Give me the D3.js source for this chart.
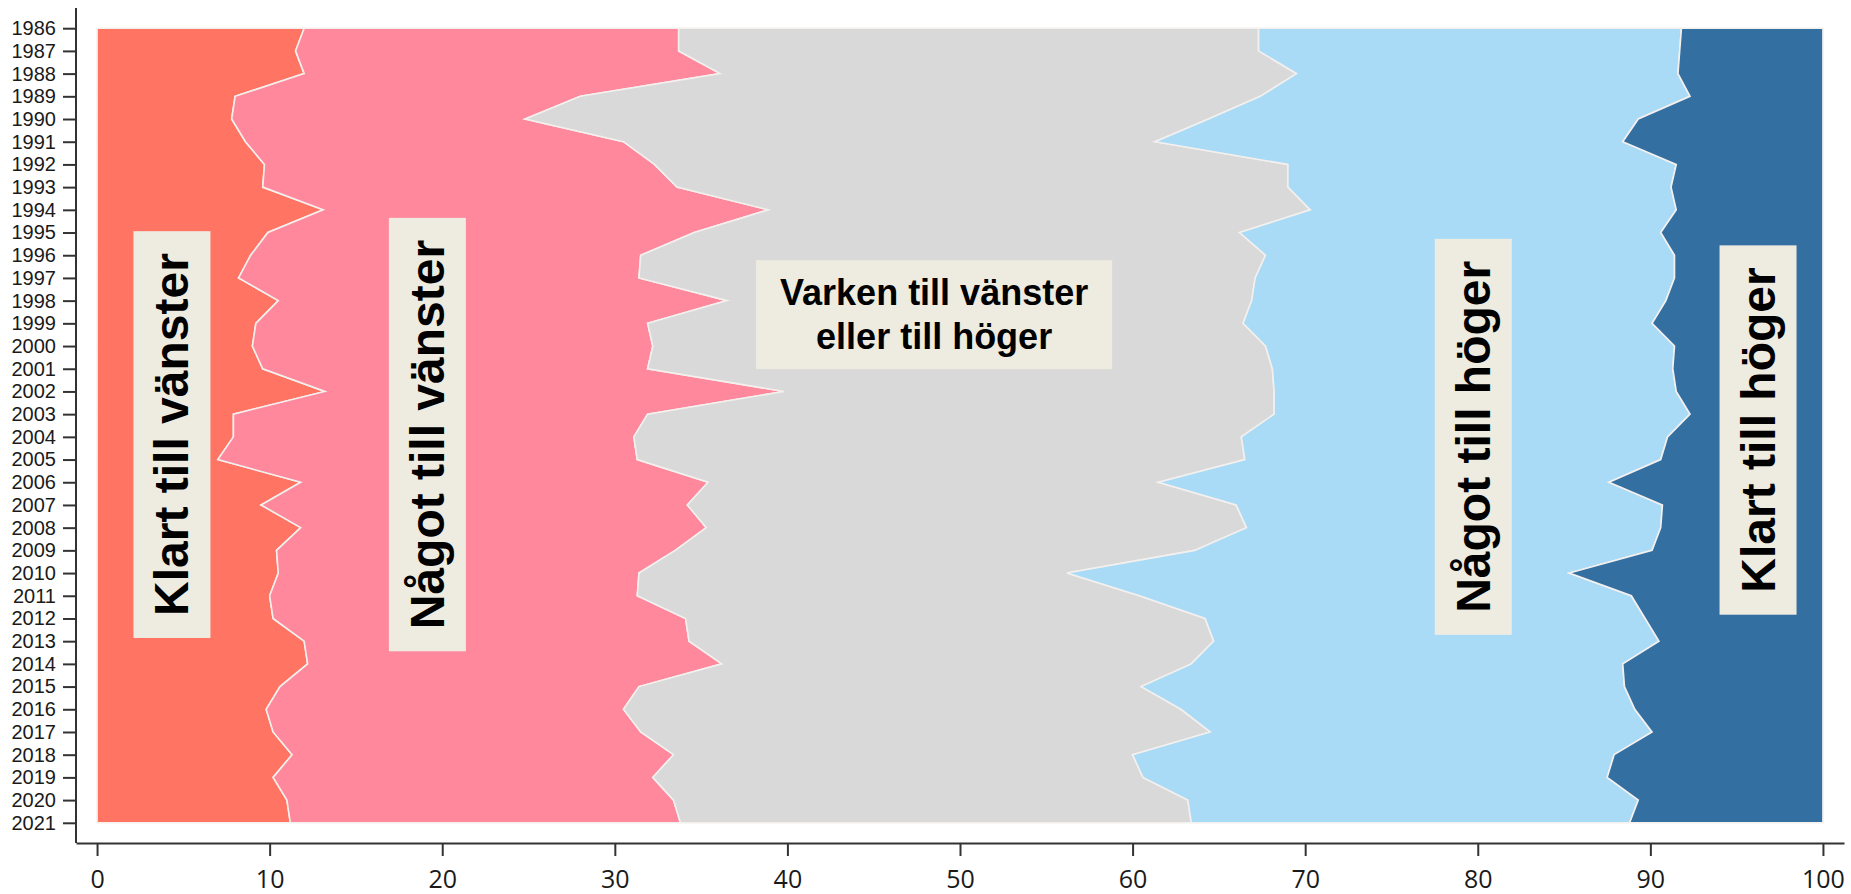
<!DOCTYPE html>
<html>
<head>
<meta charset="utf-8">
<script src="https://cdn.jsdelivr.net/npm/d3@7"></script>
<style>
  body { margin: 0; background: #fff; }
  svg { display: block; }
  .axis path, .axis line { stroke: #333; stroke-width: 2; }
  .axis text { fill: #1a1a1a; }
  .y-axis text { font-family: "Liberation Sans", Arial, sans-serif; font-size: 20px; }
  .x-axis text { font-family: "Open Sans", "Noto Sans", sans-serif; font-size: 25px; }
  .band { stroke: #f3f0ee; stroke-width: 1.6; stroke-linejoin: miter; }
  .label-box { fill: #eeebe1; }
  .label-text { font-family: "Liberation Sans", Arial, sans-serif; font-weight: bold; fill: #000; }
</style>
</head>
<body>
<div id="chart"></div>
<script>
// Share of respondents per position, one value per year (percent)
const years = [1986, 1987, 1988, 1989, 1990, 1991, 1992, 1993, 1994, 1995, 1996, 1997,
  1998, 1999, 2000, 2001, 2002, 2003, 2004, 2005, 2006, 2007, 2008, 2009,
  2010, 2011, 2012, 2013, 2014, 2015, 2016, 2017, 2018, 2019, 2020, 2021];

const klartVanster = [12.0, 11.5, 12.0, 8.0, 7.8, 8.6, 9.7, 9.6, 13.1, 9.9, 8.9, 8.2,
  10.5, 9.2, 9.0, 9.6, 13.2, 7.9, 7.9, 7.0, 11.8, 9.5, 11.8, 10.4,
  10.5, 10.0, 10.2, 12.0, 12.2, 10.6, 9.8, 10.2, 11.3, 10.2, 11.0, 11.2];
const nagotVanster = [21.7, 22.2, 24.1, 20.0, 17.0, 21.9, 22.6, 24.0, 25.8, 24.7, 22.6, 23.2,
  26.0, 22.7, 23.2, 22.3, 26.6, 24.0, 23.2, 24.3, 23.6, 24.7, 23.5, 23.1,
  20.9, 21.3, 23.9, 22.3, 24.0, 20.8, 20.7, 21.3, 22.1, 22.0, 22.4, 22.6];
const varken = [33.6, 33.6, 33.4, 39.4, 39.6, 30.8, 36.7, 35.4, 31.4, 31.6, 36.2, 35.7,
  30.4, 34.5, 35.5, 36.2, 28.4, 36.3, 35.2, 35.2, 26.1, 31.8, 31.3, 30.1,
  24.8, 29.1, 30.1, 30.4, 27.2, 29.1, 32.3, 33.0, 26.6, 28.4, 29.8, 29.6];
const nagotHoger = [24.5, 24.4, 22.1, 24.9, 24.9, 27.1, 22.5, 22.2, 21.2, 24.4, 23.7, 24.3,
  24.0, 23.7, 23.7, 23.2, 23.3, 24.1, 24.7, 24.1, 26.1, 24.7, 24.0, 26.5,
  29.1, 28.5, 25.5, 25.8, 25.0, 28.0, 26.3, 25.6, 27.9, 26.9, 26.1, 25.4];
const klartHoger = [8.2, 8.3, 8.4, 7.7, 10.7, 11.6, 8.5, 8.8, 8.5, 9.4, 8.6, 8.6,
  9.1, 9.9, 8.6, 8.7, 8.5, 7.7, 9.0, 9.4, 12.4, 9.3, 9.4, 9.9,
  14.7, 11.1, 10.3, 9.5, 11.6, 11.5, 10.9, 9.9, 12.1, 12.5, 10.7, 11.2];

const seriesKeys = ['klartVanster', 'nagotVanster', 'varken', 'nagotHoger', 'klartHoger'];
const seriesColors = ['#ff7463', '#ff889c', '#d9d9d9', '#a9dbf7', '#346fa1'];
const xTicks = [0, 10, 20, 30, 40, 50, 60, 70, 80, 90, 100];

// Band labels: text lines, anchor (value, year), vertical or not
const labels = [
  { lines: ['Klart till vänster'], x: 4.3, year: 2003.9, vertical: true },
  { lines: ['Något till vänster'], x: 19.1, year: 2003.9, vertical: true },
  { lines: ['Varken till vänster', 'eller till höger'], x: 48.5, year: 1998.6, vertical: false },
  { lines: ['Något till höger'], x: 79.7, year: 2004.0, vertical: true },
  { lines: ['Klart till höger'], x: 96.2, year: 2003.7, vertical: true }
];

const W = 1851, H = 894;
const AXIS_LEFT = 76, AXIS_RIGHT = 1844, AXIS_TOP = 8, AXIS_BOTTOM = 843;

const table = years.map((yr, i) => ({
  year: yr,
  klartVanster: klartVanster[i],
  nagotVanster: nagotVanster[i],
  varken: varken[i],
  nagotHoger: nagotHoger[i],
  klartHoger: klartHoger[i]
}));

const svg = d3.select('#chart').append('svg')
  .attr('width', W)
  .attr('height', H)
  .attr('viewBox', `0 0 ${W} ${H}`);

// x runs a little past 0..100 so the axis line overhangs the bands
const xScale = d3.scaleLinear().domain([-1.22, 101.22]).range([AXIS_LEFT, AXIS_RIGHT]);
const yScale = d3.scalePoint().domain(years).range([AXIS_TOP, AXIS_BOTTOM]).padding(0.89);
const yLin = d3.scaleLinear()
  .domain([years[0], years[years.length - 1]])
  .range([yScale(years[0]), yScale(years[years.length - 1])]);

const stacked = d3.stack().keys(seriesKeys)(table);

const area = d3.area()
  .y(d => yScale(d.data.year))
  .x0(d => xScale(d[0]))
  .x1(d => xScale(d[1]));

svg.append('g')
  .selectAll('path')
  .data(stacked)
  .join('path')
  .attr('class', 'band')
  .attr('fill', (d, i) => seriesColors[i])
  .attr('d', area);

// Axes
svg.append('g')
  .attr('class', 'axis y-axis')
  .attr('transform', `translate(${AXIS_LEFT},0)`)
  .call(d3.axisLeft(yScale).tickSize(13).tickSizeOuter(0).tickPadding(7))
  .call(g => g.select('.domain').attr('d', `M0,${AXIS_TOP}V${AXIS_BOTTOM}`));

svg.append('g')
  .attr('class', 'axis x-axis')
  .attr('transform', `translate(0,${AXIS_BOTTOM})`)
  .call(d3.axisBottom(xScale).tickValues(xTicks).tickSize(13).tickSizeOuter(0).tickPadding(14));

// Labels on the bands
const labelG = svg.append('g');
for (const lab of labels) {
  const cx = xScale(lab.x), cy = yLin(lab.year);
  const g = labelG.append('g')
    .attr('transform', lab.vertical ? `translate(${cx},${cy}) rotate(-90)` : `translate(${cx},${cy})`);
  const fs = lab.vertical ? 48 : 36;
  const lineH = 44;
  const box = g.append('rect').attr('class', 'label-box');
  const text = g.append('text')
    .attr('class', 'label-text')
    .attr('text-anchor', 'middle')
    .style('font-size', `${fs}px`);
  const n = lab.lines.length;
  lab.lines.forEach((ln, i) => {
    text.append('tspan')
      .attr('x', 0)
      .attr('y', (i - (n - 1) / 2) * lineH + fs * 0.358)
      .text(ln);
  });
  const bb = text.node().getBBox();
  const padX = lab.vertical ? 22 : 24, padY = 12;
  box.attr('x', bb.x - padX)
    .attr('y', bb.y - padY)
    .attr('width', bb.width + 2 * padX)
    .attr('height', bb.height + 2 * padY);
}
</script>
</body>
</html>
